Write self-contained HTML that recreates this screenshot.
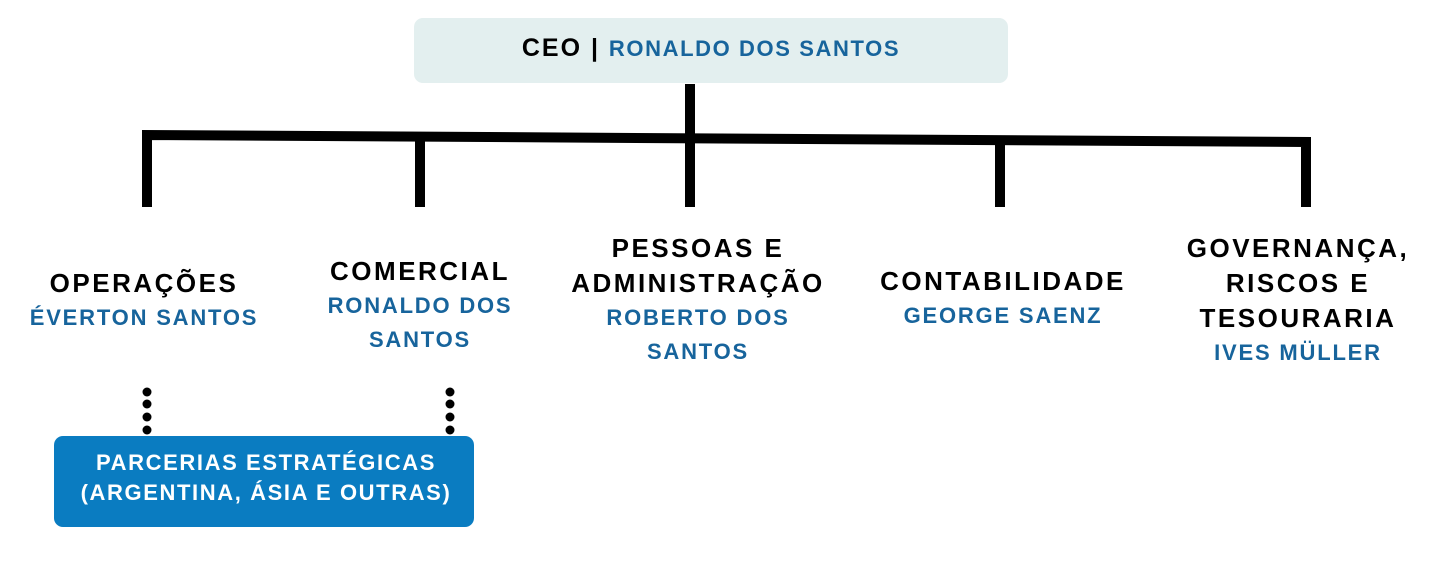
<!DOCTYPE html>
<html><head><meta charset="utf-8"><style>
body{margin:0;width:1448px;height:587px;background:#fff;position:relative;overflow:hidden;font-family:"Liberation Sans",sans-serif;font-weight:bold}
.t{position:absolute;transform:translateX(-50%);text-align:center;white-space:nowrap;line-height:35px}
.k{color:#000;font-size:26px;letter-spacing:2.5px}
.b{color:#17649c;font-size:22px;letter-spacing:1.8px;line-height:34px}
</style></head><body>
<svg width="1448" height="587" style="position:absolute;left:0;top:0">
<rect x="414" y="18" width="594" height="65" rx="9" fill="#e3efef"/>
<polyline points="147,207 147,135 1306,142 1306,207" fill="none" stroke="#000" stroke-width="10"/>
<line x1="690" y1="84" x2="690" y2="207" stroke="#000" stroke-width="10"/>
<line x1="420" y1="138" x2="420" y2="207" stroke="#000" stroke-width="10"/>
<line x1="1000" y1="140" x2="1000" y2="207" stroke="#000" stroke-width="10"/>
<g fill="#000">
<circle cx="147" cy="392" r="4.5"/><circle cx="147" cy="404" r="4.5"/><circle cx="147" cy="417" r="4.5"/><circle cx="147" cy="430" r="4.5"/>
<circle cx="450" cy="392" r="4.5"/><circle cx="450" cy="404" r="4.5"/><circle cx="450" cy="417" r="4.5"/><circle cx="450" cy="430" r="4.5"/>
</g>
<rect x="54" y="436" width="420" height="91" rx="9" fill="#0a7cc1"/>
</svg>
<div class="t" style="left:711px;top:31px;font-size:25px;line-height:34px;letter-spacing:2px"><span style="color:#000">CEO | </span><span style="color:#17649c;font-size:22px;letter-spacing:1.6px">RONALDO DOS SANTOS</span></div>

<div class="t" style="left:144px;top:266px"><div class="k">OPERAÇÕES</div><div class="b">ÉVERTON SANTOS</div></div>
<div class="t" style="left:420px;top:254px"><div class="k">COMERCIAL</div><div class="b">RONALDO DOS<br>SANTOS</div></div>
<div class="t" style="left:698px;top:231px"><div class="k">PESSOAS E<br>ADMINISTRAÇÃO</div><div class="b">ROBERTO DOS<br>SANTOS</div></div>
<div class="t" style="left:1003px;top:264px"><div class="k">CONTABILIDADE</div><div class="b">GEORGE SAENZ</div></div>
<div class="t" style="left:1298px;top:231px"><div class="k">GOVERNANÇA,<br>RISCOS E<br>TESOURARIA</div><div class="b">IVES MÜLLER</div></div>

<div class="t" style="left:266px;top:448px;color:#fff;font-size:22px;line-height:30px;letter-spacing:1.6px">PARCERIAS ESTRATÉGICAS<br>(ARGENTINA, ÁSIA E OUTRAS)</div>
</body></html>
